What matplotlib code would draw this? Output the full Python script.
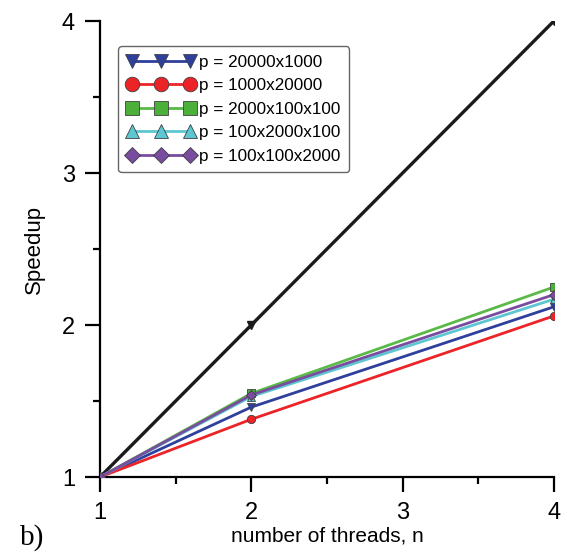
import matplotlib.pyplot as plt
from matplotlib.ticker import MultipleLocator

plt.rcParams['font.family'] = ['Liberation Sans', 'DejaVu Sans']

threads = [1, 2, 4]
ideal = [1, 2, 4]

labels = ["p = 20000x1000", "p = 1000x20000", "p = 2000x100x100",
          "p = 100x2000x100", "p = 100x100x2000"]
speedup_20000x1000 = [1, 1.46, 2.12]
speedup_1000x20000 = [1, 1.38, 2.06]
speedup_2000x100x100 = [1, 1.55, 2.25]
speedup_100x2000x100 = [1, 1.53, 2.17]
speedup_100x100x2000 = [1, 1.54, 2.20]

series = [speedup_20000x1000, speedup_1000x20000, speedup_2000x100x100,
          speedup_100x2000x100, speedup_100x100x2000]
line_colors = ["#2e3f9c", "#ec2428", "#5ab947", "#5cc6d2", "#7a4c9f"]
face_colors = ["#2e3f9c", "#ec2428", "#4caf3a", "#5cc6d2", "#7a4c9f"]
markers = ["v", "o", "s", "^", "D"]
sizes = [6, 6, 5.5, 6, 4.6]

fig = plt.figure(figsize=(5.68, 5.56), dpi=100)
ax = fig.add_axes([0.176, 0.142, 0.799, 0.82])

ax.plot(threads, ideal, color="#1a1a1a", lw=2.4, marker="v", ms=6,
        zorder=3)

for vals, lab, lc, fc, m, sz in zip(series, labels, line_colors, face_colors,
                                    markers, sizes):
    ax.plot(threads, vals, color=lc, lw=2.0, marker=m, ms=sz,
            markerfacecolor=fc, markeredgecolor="#404040", markeredgewidth=0.6,
            label=lab, zorder=4)

ax.set_xlim(1, 4)
ax.set_ylim(1, 4)
ax.xaxis.set_major_locator(MultipleLocator(1))
ax.xaxis.set_minor_locator(MultipleLocator(0.5))
ax.yaxis.set_major_locator(MultipleLocator(1))
ax.yaxis.set_minor_locator(MultipleLocator(0.5))

for s in ["top", "right"]:
    ax.spines[s].set_visible(False)
for s in ["left", "bottom"]:
    ax.spines[s].set_linewidth(1.6)

ax.tick_params(which="major", length=11, width=1.6, labelsize=17, pad=7)
ax.tick_params(which="minor", length=5, width=1.6)
for sp in ax.spines.values():
    sp.set_clip_on(False)

ax.set_ylabel("Speedup", fontsize=16, labelpad=12)
ax.set_xlabel("number of threads, n", fontsize=15, labelpad=2)

leg = ax.legend(loc="upper left", bbox_to_anchor=(0.04, 0.945), numpoints=3,
                markerscale=1.75, fontsize=12.3, handlelength=4.0,
                handletextpad=0.25, borderpad=0.5, labelspacing=0.5,
                fancybox=True, framealpha=1, edgecolor="#666666",
                borderaxespad=0)
leg.get_frame().set_linewidth(1.0)

fig.text(0.035, 0.02, "b)", fontsize=21, family="Liberation Serif")

fig.savefig("out.png", dpi=100)
